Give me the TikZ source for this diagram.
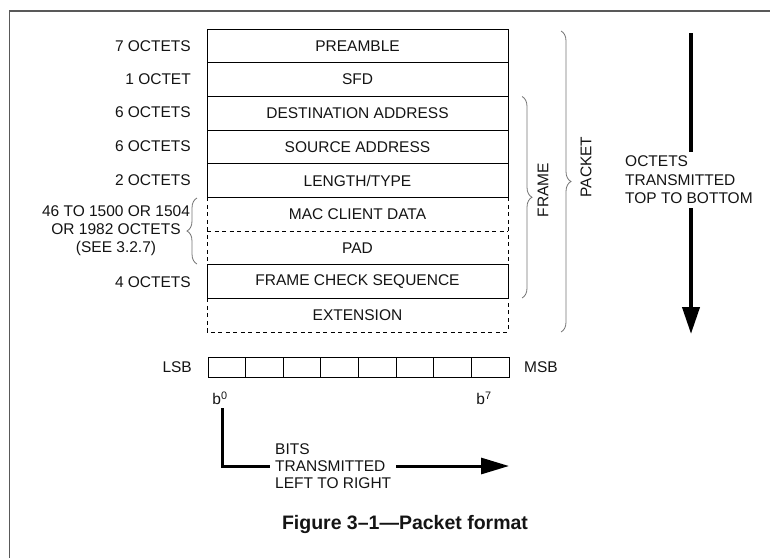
\documentclass[tikz,border=0pt]{standalone}
\usepackage{fontspec}
\setmainfont{Liberation Sans}
\usetikzlibrary{arrows.meta,decorations.pathreplacing}

\begin{document}
\begin{tikzpicture}[x=1pt,y=-1pt,
  txt/.style={font=\fontsize{15.5}{18}\selectfont, text=black!92},
  field/.style={txt, minimum width=301pt, minimum height=33.67pt, inner sep=0pt,
    outer sep=0pt, anchor=north west},
  solidfield/.style={field, draw, line width=0.8pt},
  dashline/.style={line width=0.8pt, dash pattern=on 4pt off 3.5pt},
  count/.style={txt, anchor=east, inner sep=0pt},
  bitcell/.style={draw, line width=0.8pt, minimum width=37.625pt, minimum height=20.5pt,
    inner sep=0pt, outer sep=0pt, anchor=north west},
  curly/.style={draw=black!55, line width=0.8pt, decorate,
    decoration={brace, amplitude=10pt}},
  bigarrow/.style={line width=4pt, line join=miter},
]
\useasboundingbox (0,0) rectangle (770,558);

% page frame
\draw[black!65, line width=1.5pt] (9.5,558) -- (9.5,11) -- (770,11);

% packet fields
\node[solidfield] (pre) at (207,29) {PREAMBLE};
\node[solidfield] (sfd) at (pre.south west) {SFD};
\node[solidfield] (dst) at (sfd.south west) {DESTINATION ADDRESS};
\node[solidfield] (src) at (dst.south west) {SOURCE ADDRESS};
\node[solidfield] (len) at (src.south west) {LENGTH/TYPE};
\node[field] (mac) at (len.south west) {MAC CLIENT DATA};
\node[field] (pad) at (mac.south west) {PAD};
\node[solidfield] (fcs) at (pad.south west) {FRAME CHECK SEQUENCE};
\node[field] (ext) at (fcs.south west) {EXTENSION};

% dashed borders of the variable-length fields
\draw[dashline] (mac.north west) -- (pad.south west);
\draw[dashline] (mac.north east) -- (pad.south east);
\draw[dashline] (mac.south west) -- (mac.south east);
\draw[dashline] (ext.north west) -- (ext.south west) -- (ext.south east) -- (ext.north east);

% field sizes
\node[count] (c1) at (191,46) {7 OCTETS};
\node[count] (c2) at (191,79.5) {1 OCTET};
\node[count] (c3) at (191,112.5) {6 OCTETS};
\node[count] (c4) at (191,146.5) {6 OCTETS};
\node[count] (c5) at (191,180) {2 OCTETS};
\node[txt, align=center, inner sep=0pt] (c6) at (116,231)
  {46 TO 1500 OR 1504\\OR 1982 OCTETS\\(SEE 3.2.7)};
\node[count] (c7) at (191,282) {4 OCTETS};
\draw[curly] (197,264) -- (197,198);

% frame and packet braces
\draw[curly] (522,96.5) -- (522,298);
\node[txt, rotate=90] (frame) at (543,190) {FRAME};
\draw[curly] (561,31) -- (561,332);
\node[txt, rotate=90] (packet) at (586,167) {PACKET};

% octet order arrow
\node[txt, align=left, anchor=west, inner sep=4pt,
  font=\fontsize{15.5}{18.5}\selectfont] (otxt) at (621,180)
  {OCTETS\\TRANSMITTED\\TOP TO BOTTOM};
\coordinate (otop) at (691,33);
\coordinate (obot) at (691,334);
\draw[bigarrow] (otop) -- (otop |- otxt.north);
\draw[bigarrow, -{Triangle[length=27pt,width=17pt]}] (otop |- otxt.south) -- (obot);

% bit order within an octet
\foreach \i in {0,...,7} {
  \node[bitcell] (bit\i) at (208+37.625*\i,357) {};
}
\node[txt, anchor=east, inner sep=0pt] (lsb) at (192,367) {LSB};
\node[txt, anchor=west, inner sep=0pt] (msb) at (524,367) {MSB};
\node[txt, inner sep=0pt] (b0) at (220,398) {b\textsuperscript{0}};
\node[txt, inner sep=0pt] (b7) at (484,398) {b\textsuperscript{7}};

\node[txt, align=left, anchor=west, inner sep=5pt,
  font=\fontsize{15.5}{17}\selectfont] (btxt) at (270,466)
  {BITS\\TRANSMITTED\\LEFT TO RIGHT};
\coordinate (bstart) at (222,408);
\coordinate (bend) at (509,466);
\draw[line width=3pt, line join=miter] (bstart) |- (btxt.west);
\draw[line width=3pt, -{Triangle[length=28pt,width=16pt]}] (btxt.east) -- (bend);

% caption
\node[font=\fontsize{19.5}{22}\selectfont\bfseries, text=black!92] (cap) at (405,524)
  {Figure 3–1—Packet format};
\end{tikzpicture}
\end{document}
